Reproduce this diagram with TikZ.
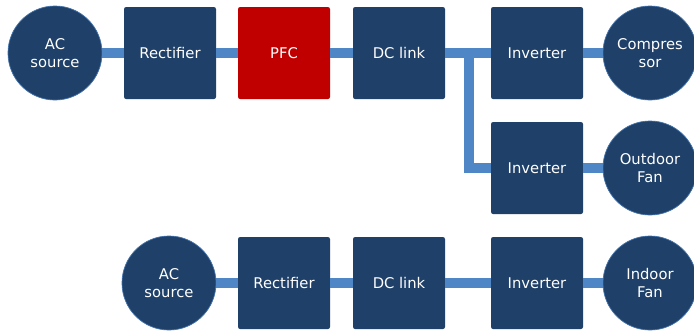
\documentclass[tikz,border=0pt]{standalone}
\usepackage{fontspec}
\setmainfont{DejaVu Sans}
\usepackage{tikz}
\definecolor{navy}{RGB}{31,64,104}
\definecolor{wireblue}{RGB}{79,134,198}
\definecolor{pfcred}{RGB}{192,0,0}

\begin{document}
\begin{tikzpicture}[
	block/.style={draw=none, fill=navy, rounded corners=1.2pt, minimum width=1.84cm, minimum height=1.84cm, inner sep=0pt, text=white, font=\fontsize{8.4}{10}\selectfont, align=center},
	disc/.style={circle, draw=wireblue!70!navy, line width=0.4pt, fill=navy, minimum size=1.88cm, inner sep=0pt, text=white, font=\fontsize{8.4}{10}\selectfont, align=center},
	wire/.style={line width=0.2cm, color=wireblue}
	]
	%%%%% START %%%%%
	\useasboundingbox (0, 0) rectangle (13.88, -6.6);
	
	% outdoor unit
	\node[disc] (ac1) at (1.10, -1.06) {AC\\source};
	\node[block] (rect1) at (3.40, -1.06) {Rectifier};
	\node[block, fill=pfcred] (pfc) at (5.68, -1.06) {PFC};
	\node[block] (dc1) at (7.98, -1.06) {DC link};
	\node[block] (inv1) at (10.74, -1.06) {Inverter};
	\node[disc] (comp) at (13.0, -1.06) {Compres\\sor};
	
	\node[block] (inv2) at (10.74, -3.36) {Inverter};
	\node[disc] (ofan) at (13.0, -3.36) {Outdoor\\Fan};
	
	% indoor unit
	\node[disc] (ac2) at (3.38, -5.66) {AC\\source};
	\node[block] (rect2) at (5.68, -5.66) {Rectifier};
	\node[block] (dc2) at (7.98, -5.66) {DC link};
	\node[block] (inv3) at (10.74, -5.66) {Inverter};
	\node[disc] (ifan) at (13.0, -5.66) {Indoor\\Fan};
	
	\coordinate (split) at (9.38, -1.06);
	
	% links
	\draw[wire] (ac1) -- (rect1);
	\draw[wire] (rect1) -- (pfc);
	\draw[wire] (pfc) -- (dc1);
	\draw[wire] (dc1) -- (inv1);
	\draw[wire] (inv1) -- (comp);
	\draw[wire] (split) |- (inv2.west);
	\draw[wire] (inv2) -- (ofan);
	
	\draw[wire] (ac2) -- (rect2);
	\draw[wire] (rect2) -- (dc2);
	\draw[wire] (dc2) -- (inv3);
	\draw[wire] (inv3) -- (ifan);
	
	%%%%% END %%%%%
\end{tikzpicture}
\end{document}
